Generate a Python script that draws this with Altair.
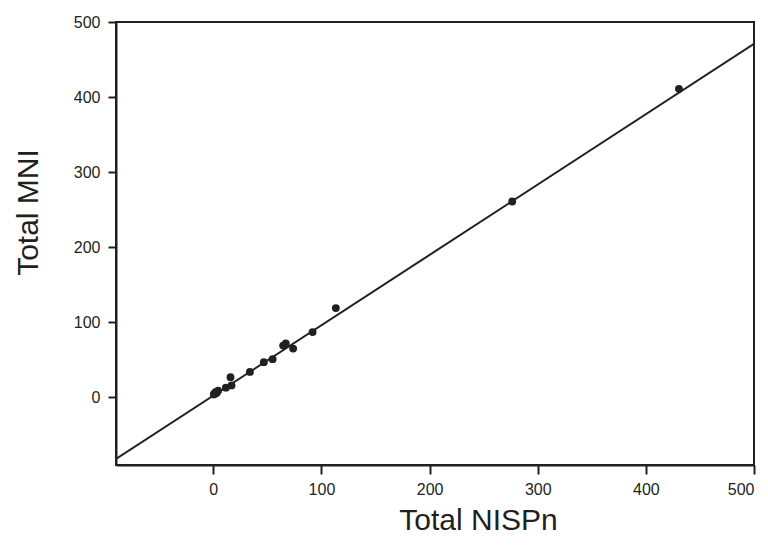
import altair as alt
import pandas as pd

nisp = [430.6, 276.4, 113.3, 91.8, 73.8, 67.0, 64.6, 54.8, 46.7, 33.8, 15.9, 16.8, 11.6, 4.4, 2.0, 1.0, 0.5, 3.0]
mni = [411, 261, 119, 87, 65, 72, 69, 51, 47, 34, 27, 16, 13, 9, 7, 5, 4, 6]

fit_x = [-90, 500]
fit_y = [-82, 471]

ticks = [0, 100, 200, 300, 400, 500]

pts = pd.DataFrame({"x": nisp, "y": mni})
fit = pd.DataFrame({"x": fit_x, "y": fit_y})

font = "Liberation Sans"
ink = "#231f20"

xs = alt.Scale(domain=[-90, 500], nice=False, zero=False)
ys = alt.Scale(domain=[-90, 500], nice=False, zero=False)

xax = alt.Axis(values=ticks, title="Total NISPn", grid=False, tickSize=9, tickWidth=2,
               domainWidth=2, domainColor=ink, tickColor=ink,
               labelFont=font, labelFontSize=16, labelColor=ink, labelPadding=7,
               titleFont=font, titleFontSize=30, titleFontWeight="normal", titleColor=ink,
               titleBaseline="alphabetic", titleAlign="center", titleX=362, titleY=64)
yax = alt.Axis(values=ticks, title="Total MNI", grid=False, tickSize=8, tickWidth=2,
               domainWidth=2, domainColor=ink, tickColor=ink,
               labelFont=font, labelFontSize=16, labelColor=ink, labelPadding=8,
               titleFont=font, titleFontSize=30, titleFontWeight="normal", titleColor=ink,
               titleBaseline="alphabetic", titleAlign="center", titleAngle=270,
               titleX=-79, titleY=190)

line = alt.Chart(fit).mark_line(color=ink, strokeWidth=2, clip=True).encode(
    x=alt.X("x:Q", scale=xs, axis=xax),
    y=alt.Y("y:Q", scale=ys, axis=yax),
)
dots = alt.Chart(pts).mark_circle(color=ink, opacity=1, size=62).encode(
    x=alt.X("x:Q", scale=xs),
    y=alt.Y("y:Q", scale=ys),
)

chart = (line + dots).properties(
    width=638, height=443,
    autosize=alt.AutoSizeParams(type="none"),
    padding={"left": 108, "top": 14, "right": 6, "bottom": 75},
).configure_view(stroke=ink, strokeWidth=2)

chart.save("out.html", embed_options={"renderer": "svg", "actions": False})
